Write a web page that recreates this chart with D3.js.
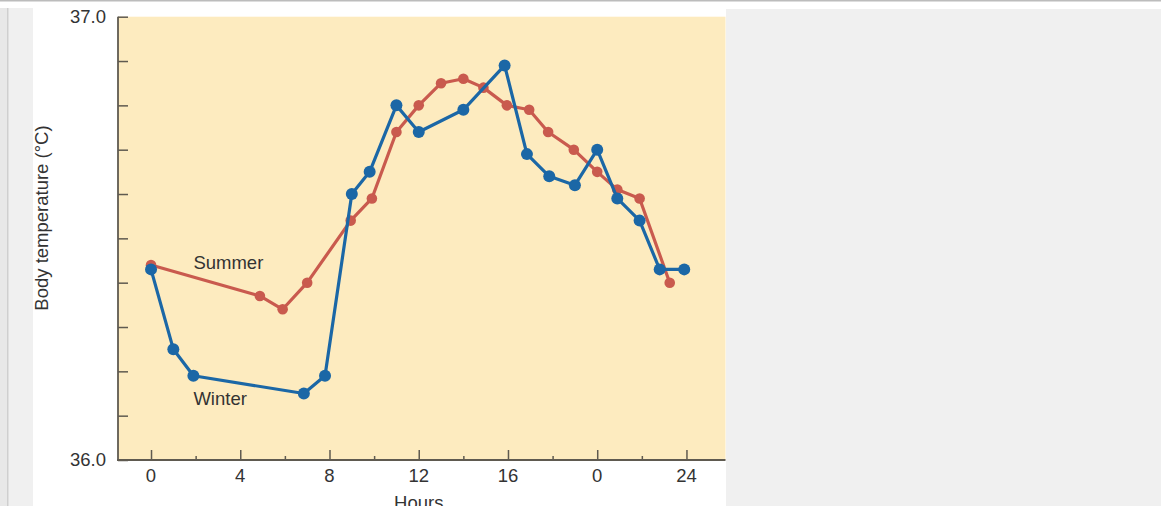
<!DOCTYPE html>
<html>
<head>
<meta charset="utf-8">
<script src="https://cdn.jsdelivr.net/npm/d3@7"></script>
<style>
  html, body { margin: 0; padding: 0; background: #ffffff; overflow: hidden; }
  svg { display: block; font-family: "Liberation Sans", Arial, Helvetica, sans-serif; }
</style>
</head>
<body>
<svg id="chart" width="1161" height="506"></svg>
<script>
// ---- data ----
const winterHours = [0, 1, 1.9, 6.85, 7.8, 9, 9.8, 11, 12, 14, 15.85, 16.85, 17.85, 19, 20, 20.9, 21.9, 22.8, 23.9];
const winterTemps = [36.43, 36.25, 36.19, 36.15, 36.19, 36.60, 36.65, 36.80, 36.74, 36.79, 36.89, 36.69, 36.64, 36.62, 36.70, 36.59, 36.54, 36.43, 36.43];
const summerHours = [0, 4.88, 5.9, 7, 8.95, 9.9, 11, 12, 13, 14, 14.9, 15.95, 16.95, 17.8, 18.95, 20, 20.9, 21.9, 23.25];
const summerTemps = [36.44, 36.37, 36.34, 36.40, 36.54, 36.59, 36.74, 36.80, 36.85, 36.86, 36.84, 36.80, 36.79, 36.74, 36.70, 36.65, 36.61, 36.59, 36.40];
const xMajorTicks = [0, 4, 8, 12, 16, 20, 24];
const xTickLabels = ["0", "4", "8", "12", "16", "0", "24"];
const xMinorTicks = [2, 6, 10, 14, 18, 22];
const yTicks = [36.0, 36.1, 36.2, 36.3, 36.4, 36.5, 36.6, 36.7, 36.8, 36.9, 37.0];
const yTickLabels = ["36.0", "", "", "", "", "", "", "", "", "", "37.0"];
const xDomain = [-1.48, 25.75];
const yDomain = [36.0, 37.0];

// ---- layout ----
const svg = d3.select("#chart");
const W = 1161, H = 506;
const panel = { left: 118, right: 725.5, top: 16.7, bottom: 460 };

// page chrome
svg.append("rect").attr("x", 0).attr("y", 0).attr("width", W).attr("height", H).attr("fill", "#ffffff");
svg.append("rect").attr("x", 0).attr("y", 0).attr("width", W).attr("height", 1.5).attr("fill", "#bcbcbc");
svg.append("rect").attr("x", 0).attr("y", 8).attr("width", 33).attr("height", H - 8).attr("fill", "#f0f0f0");
svg.append("rect").attr("x", 0).attr("y", 8).attr("width", 7).attr("height", H - 8).attr("fill", "#e8e8e8");
svg.append("rect").attr("x", 7).attr("y", 8).attr("width", 1.5).attr("height", H - 8).attr("fill", "#cfcfcf");
svg.append("rect").attr("x", 726).attr("y", 9).attr("width", W - 726).attr("height", H - 9).attr("fill", "#f0f0f0");

// plot panel
svg.append("rect")
  .attr("x", panel.left).attr("y", panel.top)
  .attr("width", panel.right - panel.left).attr("height", panel.bottom - panel.top)
  .attr("fill", "#fdebbf");

const x = d3.scaleLinear().domain(xDomain).range([panel.left, panel.right]);
const y = d3.scaleLinear().domain(yDomain).range([panel.bottom, panel.top]);

const axisColor = "#5f5a50";
const textColor = "#333333";
const fs = 18.5;

// y axis (inward ticks)
const yAxis = svg.append("g")
  .attr("transform", `translate(${panel.left},0)`)
  .call(d3.axisRight(y).tickValues(yTicks).tickSize(10).tickFormat(""));
yAxis.select(".domain").remove();
yAxis.selectAll(".tick line").attr("stroke", axisColor).attr("stroke-width", 1.5);
svg.append("line")
  .attr("x1", panel.left).attr("x2", panel.left)
  .attr("y1", panel.top).attr("y2", panel.bottom)
  .attr("stroke", axisColor).attr("stroke-width", 1.8);

// y tick labels
svg.append("g").selectAll("text")
  .data(yTicks.map((v, i) => ({ v, label: yTickLabels[i] })).filter(d => d.label))
  .join("text")
  .attr("x", panel.left - 12)
  .attr("y", d => y(d.v))
  .attr("dy", "0.35em")
  .attr("text-anchor", "end")
  .attr("font-size", fs)
  .attr("fill", textColor)
  .text(d => d.label);

// x axis: major ticks (inward) with labels
const xAxis = svg.append("g")
  .attr("transform", `translate(0,${panel.bottom})`)
  .call(d3.axisTop(x).tickValues(xMajorTicks).tickSize(10).tickFormat(""));
xAxis.select(".domain").remove();
xAxis.selectAll(".tick line").attr("stroke", axisColor).attr("stroke-width", 1.5);

const xMinor = svg.append("g")
  .attr("transform", `translate(0,${panel.bottom})`)
  .call(d3.axisTop(x).tickValues(xMinorTicks).tickSize(4).tickFormat(""));
xMinor.select(".domain").remove();
xMinor.selectAll(".tick line").attr("stroke", axisColor).attr("stroke-width", 1.5);

svg.append("line")
  .attr("x1", panel.left - 1).attr("x2", panel.right)
  .attr("y1", panel.bottom).attr("y2", panel.bottom)
  .attr("stroke", axisColor).attr("stroke-width", 2.2);

svg.append("g").selectAll("text")
  .data(xMajorTicks.map((v, i) => ({ v, label: xTickLabels[i] })))
  .join("text")
  .attr("x", d => x(d.v))
  .attr("y", panel.bottom + 22)
  .attr("text-anchor", "middle")
  .attr("font-size", fs)
  .attr("fill", textColor)
  .text(d => d.label);

// axis titles
svg.append("text")
  .attr("x", x(12))
  .attr("y", 509)
  .attr("text-anchor", "middle")
  .attr("font-size", fs)
  .attr("fill", textColor)
  .text("Hours");

svg.append("text")
  .attr("transform", `translate(48,218) rotate(-90)`)
  .attr("text-anchor", "middle")
  .attr("font-size", fs)
  .attr("fill", textColor)
  .text("Body temperature (°C)");

// series
const series = [
  { name: "Summer", hours: summerHours, temps: summerTemps, color: "#c95a4e", r: 5.3 },
  { name: "Winter", hours: winterHours, temps: winterTemps, color: "#1b67a6", r: 6 }
];

const line = d3.line().x(d => x(d[0])).y(d => y(d[1]));

series.forEach(s => {
  const pts = s.hours.map((h, i) => [h, s.temps[i]]);
  svg.append("path")
    .datum(pts)
    .attr("d", line)
    .attr("fill", "none")
    .attr("stroke", s.color)
    .attr("stroke-width", 3.2)
    .attr("stroke-linejoin", "round");
  svg.append("g").selectAll("circle")
    .data(pts)
    .join("circle")
    .attr("cx", d => x(d[0]))
    .attr("cy", d => y(d[1]))
    .attr("r", s.r)
    .attr("fill", s.color);
});

// in-plot labels
svg.append("text")
  .attr("x", x(1.9)).attr("y", y(36.43))
  .attr("font-size", fs).attr("fill", textColor)
  .text("Summer");
svg.append("text")
  .attr("x", x(1.9)).attr("y", y(36.125))
  .attr("font-size", fs).attr("fill", textColor)
  .text("Winter");
</script>
</body>
</html>
